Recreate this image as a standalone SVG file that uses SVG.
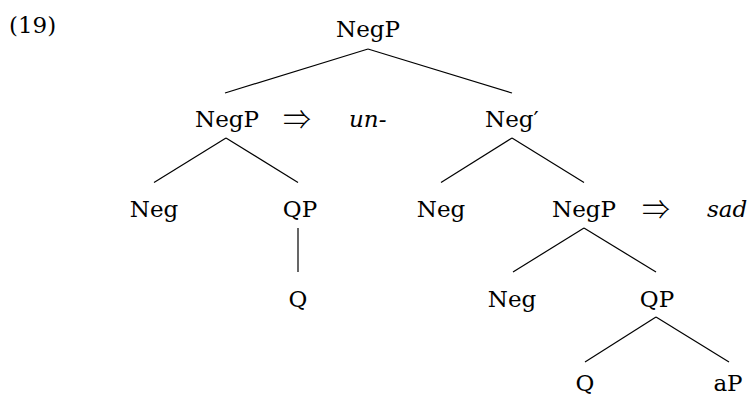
<svg xmlns="http://www.w3.org/2000/svg" width="750" height="398" viewBox="0 0 750 398">
<style>
text{font-family:"DejaVu Serif","Liberation Serif",serif;font-size:23px;fill:#000}
.n{text-anchor:middle}
.it{font-style:italic}
.ar{font-family:"Noto Sans CJK JP","DejaVu Sans",sans-serif;font-weight:300;font-size:28px;text-anchor:middle}
#edges line{stroke:#000;stroke-width:1.2}
</style>
<rect width="750" height="398" fill="#fff"/>
<text x="9" y="33" font-size="24">(19)</text>
<g id="edges">
<line x1="368" y1="49" x2="225" y2="93"/>
<line x1="368" y1="49" x2="512" y2="93"/>
<line x1="226" y1="138" x2="154" y2="182.5"/>
<line x1="226" y1="138" x2="298" y2="182.5"/>
<line x1="512" y1="138" x2="441" y2="182.5"/>
<line x1="512" y1="138" x2="584" y2="182.5"/>
<line x1="298" y1="228" x2="298" y2="272"/>
<line x1="584" y1="228" x2="513" y2="272"/>
<line x1="584" y1="228" x2="656" y2="272"/>
<line x1="656" y1="317" x2="585" y2="362"/>
<line x1="656" y1="317" x2="729" y2="362"/>
</g>
<g id="n-root"><text class="n" x="368" y="37">NegP</text></g>
<g id="n-negp1"><text class="n" x="227" y="127">NegP</text></g>
<g id="n-arrow1"><text class="ar" x="297" y="130">⇒</text></g>
<g id="n-un"><text class="it" x="349" y="127">un-</text></g>
<g id="n-negbar"><text x="485" y="127">Neg′</text></g>
<g id="n-neg1"><text class="n" x="154" y="217">Neg</text></g>
<g id="n-qp1"><text class="n" x="300" y="217">QP</text></g>
<g id="n-neg2"><text class="n" x="441" y="217">Neg</text></g>
<g id="n-negp2"><text class="n" x="584" y="217">NegP</text></g>
<g id="n-arrow2"><text class="ar" x="656" y="220">⇒</text></g>
<g id="n-sad"><text class="it" x="707" y="217">sad</text></g>
<g id="n-q1"><text class="n" x="298" y="307">Q</text></g>
<g id="n-neg3"><text class="n" x="512" y="307">Neg</text></g>
<g id="n-qp2"><text class="n" x="657" y="307">QP</text></g>
<g id="n-q2"><text class="n" x="585" y="391">Q</text></g>
<g id="n-ap"><text class="n" x="728" y="391">aP</text></g>
</svg>
